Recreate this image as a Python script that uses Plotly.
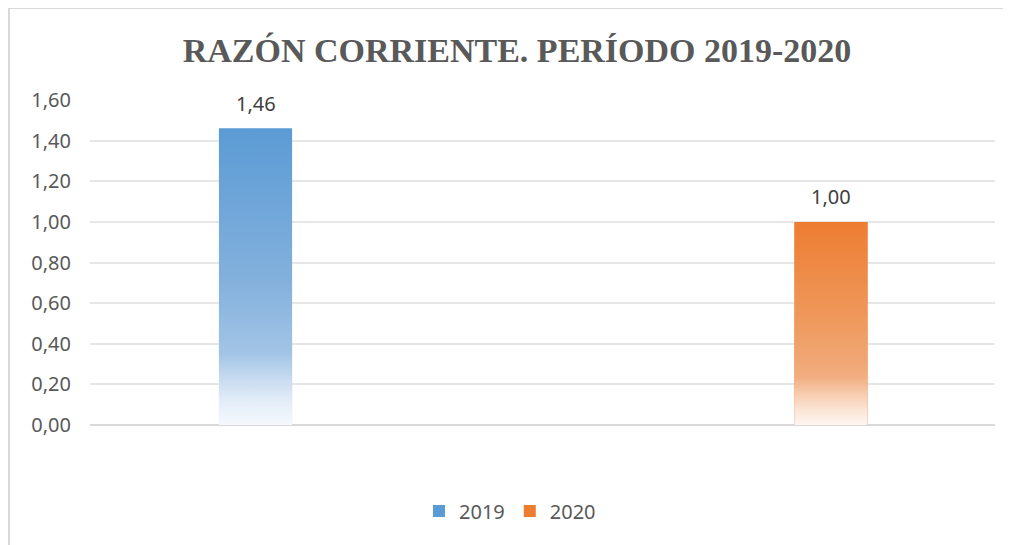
import plotly.graph_objects as go

years = ["2019", "2020"]
ratios = [1.46, 1.00]
colors = ["#5B9BD5", "#ED7D31"]

# vertical fade: light at the bottom of the bar, full colour at the top
fades = [
    [[0, "#F5F9FD"], [0.08, "#E3EDF8"], [0.16, "#C6DAEF"], [0.24, "#A2C4E6"],
     [0.5, "#82B0DC"], [1, "#5B9BD5"]],
    [[0, "#FDF6F1"], [0.08, "#FAE3D3"], [0.16, "#F6CAAB"], [0.24, "#F1AC7E"],
     [0.5, "#EF9A5E"], [1, "#ED7D31"]],
]

bar_w = 0.127

fig = go.Figure()
for i, (yr, val, col) in enumerate(zip(years, ratios, colors)):
    fig.add_trace(go.Bar(
        x=[i], y=[val], name=yr, width=bar_w,
        marker=dict(color=col, line=dict(width=0)),
    ))
    # value label a bit above the bar top
    fig.add_annotation(x=i, y=val, text=f"{val:.2f}".replace(".", ","),
                       showarrow=False, yshift=25,
                       font=dict(size=20, color="#404040"))
for i, (val, fade) in enumerate(zip(ratios, fades)):
    left, right = i - bar_w / 2, i + bar_w / 2
    fig.add_trace(go.Scatter(
        x=[left, right, right, left, left], y=[0, 0, val, val, 0],
        mode="lines", line=dict(width=0), fill="toself",
        fillgradient=dict(type="vertical", colorscale=fade),
        showlegend=False, hoverinfo="skip",
    ))

fig.update_layout(
    width=1003, height=537,
    margin=dict(l=82, r=16, t=92, b=120),
    paper_bgcolor="white", plot_bgcolor="white",
    separators=",.",
    font=dict(family="Noto Sans", size=20, color="#595959"),
    title=dict(text="<b>RAZÓN CORRIENTE. PERÍODO 2019-2020</b>",
               font=dict(family="Liberation Serif", size=34, color="#595959"),
               x=0.5075, xref="container", xanchor="center",
               y=0.922, yref="container", yanchor="middle"),
    barmode="overlay",
    showlegend=True,
    legend=dict(orientation="h", x=0.5005, xref="container", xanchor="center",
                y=0.0633, yref="container", yanchor="middle",
                font=dict(size=20, color="#595959"), itemwidth=30),
    xaxis=dict(range=[-0.2876, 1.285], showticklabels=False, showgrid=False,
               zeroline=False, fixedrange=True),
    yaxis=dict(range=[0, 1.6], dtick=0.2, tickformat=".2f",
               gridcolor="#E6E6E6", gridwidth=1.5, zeroline=True,
               zerolinecolor="#D9D9D9", zerolinewidth=2,
               ticklabelstandoff=18, showline=False),
    shapes=[dict(type="rect", xref="paper", yref="paper",
                 x0=-0.0895, x1=1.1, y0=-0.6, y1=1.283,
                 line=dict(color="#D9D9D9", width=2), layer="below")],
)

fig.write_html("out.html")
